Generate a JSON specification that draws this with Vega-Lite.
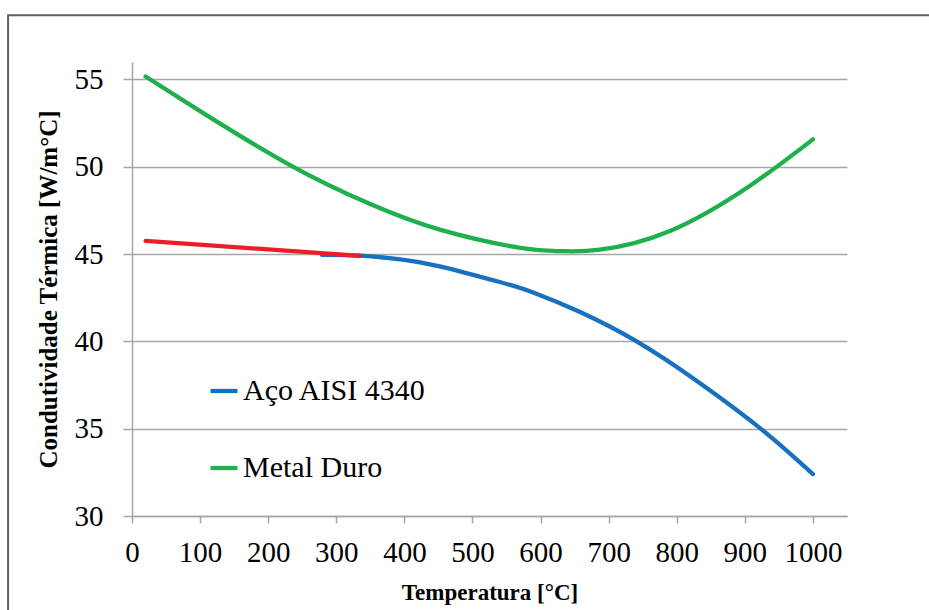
{
  "$schema": "https://vega.github.io/schema/vega-lite/v6.json",
  "width": 715,
  "height": 454,
  "autosize": {"type": "none"},
  "padding": {"left": 132, "top": 62, "right": 82, "bottom": 94},
  "background": "white",
  "config": {"view": {"stroke": null}},
  "datasets": {
    "curves": [
      {"serie": "Metal Duro", "T": 20, "k": 55.17},
      {"serie": "Metal Duro", "T": 100, "k": 53.19},
      {"serie": "Metal Duro", "T": 232, "k": 50.1},
      {"serie": "Metal Duro", "T": 349, "k": 47.88},
      {"serie": "Metal Duro", "T": 452, "k": 46.4},
      {"serie": "Metal Duro", "T": 570, "k": 45.36},
      {"serie": "Metal Duro", "T": 630, "k": 45.17},
      {"serie": "Metal Duro", "T": 687, "k": 45.25},
      {"serie": "Metal Duro", "T": 790, "k": 46.32},
      {"serie": "Metal Duro", "T": 907, "k": 48.9},
      {"serie": "Metal Duro", "T": 1000, "k": 51.57},
      {"serie": "Aço AISI 4340", "T": 279, "k": 44.95},
      {"serie": "Aço AISI 4340", "T": 335, "k": 44.91},
      {"serie": "Aço AISI 4340", "T": 394, "k": 44.7},
      {"serie": "Aço AISI 4340", "T": 452, "k": 44.3},
      {"serie": "Aço AISI 4340", "T": 540, "k": 43.4},
      {"serie": "Aço AISI 4340", "T": 589, "k": 42.8},
      {"serie": "Aço AISI 4340", "T": 658, "k": 41.68},
      {"serie": "Aço AISI 4340", "T": 741, "k": 40.0},
      {"serie": "Aço AISI 4340", "T": 829, "k": 37.75},
      {"serie": "Aço AISI 4340", "T": 925, "k": 34.95},
      {"serie": "Aço AISI 4340", "T": 1000, "k": 32.4}
    ],
    "ajuste": [
      {"T": 20, "k": 45.76},
      {"T": 335, "k": 44.9}
    ]
  },
  "layer": [
    {
      "mark": {"type": "rect", "fill": null, "stroke": "#5f5f5f", "strokeWidth": 2},
      "data": {"values": [{"frame": 1}]},
      "encoding": {
        "x": {"datum": -182, "type": "quantitative"},
        "x2": {"datum": 1400},
        "y": {"datum": 58.68, "type": "quantitative"},
        "y2": {"datum": 20}
      }
    },
    {
      "data": {"name": "curves"},
      "mark": {"type": "line", "strokeWidth": 4.3, "strokeCap": "round", "interpolate": "natural"},
      "encoding": {
        "x": {
          "field": "T", "type": "quantitative",
          "scale": {"domain": [0, 1050], "nice": false, "zero": false},
          "axis": {
            "title": "Temperatura [°C]",
            "values": [0, 100, 200, 300, 400, 500, 600, 700, 800, 900, 1000],
            "format": "d",
            "grid": false,
            "domainColor": "#a6a6a6", "domainWidth": 1.5,
            "tickColor": "#a6a6a6", "tickWidth": 1.5, "tickSize": 7,
            "labelFont": "Liberation Serif", "labelFontSize": 29, "labelColor": "black",
            "labelPadding": 15, "labelFlush": false,
            "titleFont": "Liberation Serif", "titleFontSize": 23, "titleFontWeight": "bold",
            "titleColor": "black", "titlePadding": 14
          }
        },
        "y": {
          "field": "k", "type": "quantitative",
          "scale": {"domain": [30, 56], "nice": false, "zero": false},
          "axis": {
            "title": "Condutividade Térmica [W/m°C]",
            "values": [30, 35, 40, 45, 50, 55],
            "grid": true, "gridColor": "#a6a6a6", "gridWidth": 1.5,
            "domainColor": "#a6a6a6", "domainWidth": 1.5,
            "tickColor": "#a6a6a6", "tickWidth": 1.5, "tickSize": 9,
            "labelFont": "Liberation Serif", "labelFontSize": 29, "labelColor": "black",
            "labelPadding": 20,
            "titleFont": "Liberation Serif", "titleFontSize": 25, "titleFontWeight": "bold",
            "titleColor": "black", "titlePadding": 13
          }
        },
        "color": {
          "field": "serie", "type": "nominal",
          "scale": {"domain": ["Aço AISI 4340", "Metal Duro"], "range": ["#1770c0", "#1eb04c"]},
          "legend": {
            "title": null,
            "orient": "none", "legendX": 76, "legendY": 313,
            "symbolType": "stroke", "symbolSize": 729, "symbolStrokeWidth": 4.3,
            "labelFont": "Liberation Serif", "labelFontSize": 30, "labelColor": "black",
            "labelLimit": 400,
            "labelOffset": 3, "rowPadding": 46
          }
        }
      }
    },
    {
      "data": {"name": "ajuste"},
      "mark": {"type": "line", "strokeWidth": 4.3, "strokeCap": "round", "color": "#ec1d27"},
      "encoding": {
        "x": {"field": "T", "type": "quantitative"},
        "y": {"field": "k", "type": "quantitative"}
      }
    }
  ]
}
